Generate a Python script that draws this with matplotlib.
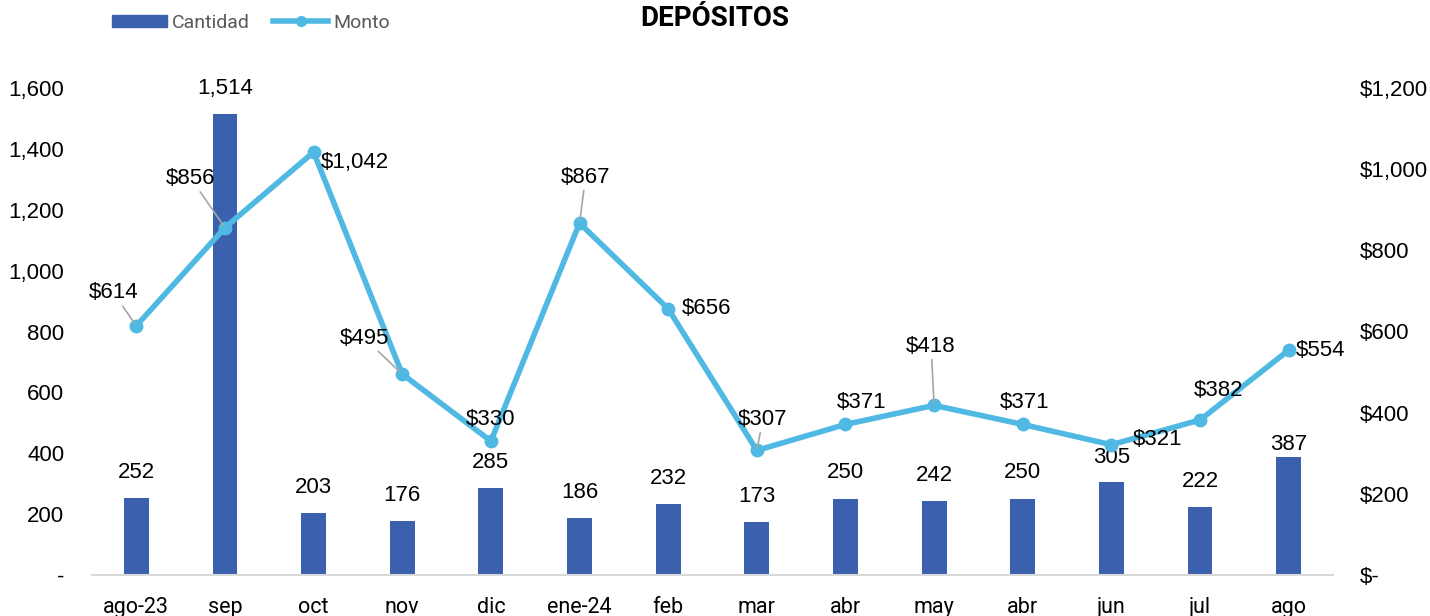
import matplotlib
matplotlib.use("Agg")
import matplotlib.pyplot as plt
from matplotlib.lines import Line2D
from matplotlib.patches import Patch

categories = ["ago-23", "sep", "oct", "nov", "dic", "ene-24", "feb", "mar",
              "abr", "may", "abr", "jun", "jul", "ago"]
cantidad = [252, 1514, 203, 176, 285, 186, 232, 173, 250, 242, 250, 305, 222, 387]
monto = [614, 856, 1042, 495, 330, 867, 656, 307, 371, 418, 371, 321, 382, 554]

# label offsets (pixels) for the Monto labels, and whether a leader line is drawn
monto_offsets = [(-23, 33), (-34, 49), (7, -10), (-38, 36), (0, 22), (6, 46), (38, 0),
                 (6, 31), (16, 22), (-3, 59), (2, 22), (46, 5), (19, 29), (32, 0)]
monto_leader = [True, True, False, True, False, True, False,
                True, False, True, False, False, False, False]
monto_ha = ["center", "center", "left", "center", "center", "center", "center",
            "center", "center", "center", "center", "center", "center", "center"]
cant_offsets = [26, 26, 26, 26, 26, 26, 26, 26, 26, 26, 26, 25, 26, 13]

BAR = "#3B60AE"
LINE = "#4FB9E3"
NUMFONT = "Liberation Sans"
TXTFONT = "Roboto"
FS = 16

fig = plt.figure(figsize=(14.3, 6.16), dpi=100)
ax = fig.add_axes([92/1430, 41/616, (1333-92)/1430, (575-88)/616])
ax2 = ax.twinx()

x = list(range(len(categories)))
ax.bar(x, cantidad, width=0.28, color=BAR, zorder=2)
ax.set_xlim(-0.5, len(categories) - 0.5)
ax.set_ylim(0, 1600)
ax.set_yticks([0, 200, 400, 600, 800, 1000, 1200, 1400, 1600])
ax.set_yticklabels(["-", "200", "400", "600", "800", "1,000", "1,200", "1,400", "1,600"],
                   fontfamily=NUMFONT, fontsize=FS)
ax.set_xticks(x)
ax.set_xticklabels(categories, fontfamily=TXTFONT, fontsize=15.5)
ax.tick_params(axis="x", length=0, pad=16)
ax.tick_params(axis="y", length=0, pad=20)

for i, v in enumerate(cantidad):
    ax.annotate(f"{v:,}", (i, v), xytext=(0, cant_offsets[i]), textcoords="offset pixels",
                ha="center", va="center", fontfamily=NUMFONT, fontsize=FS, color="black")

ax2.plot(x, monto, color=LINE, lw=4, marker="o", ms=9, zorder=3, solid_capstyle="round")
ax2.set_ylim(0, 1200)
ax2.set_yticks([0, 200, 400, 600, 800, 1000, 1200])
ax2.set_yticklabels(["$-", "$200", "$400", "$600", "$800", "$1,000", "$1,200"],
                    fontfamily=NUMFONT, fontsize=FS)
ax2.tick_params(axis="y", length=0, pad=19.5)

for i, v in enumerate(monto):
    dx, dy = monto_offsets[i]
    kw = {}
    if monto_leader[i]:
        kw["arrowprops"] = dict(arrowstyle="-", color="#A6A6A6", lw=1.2,
                                shrinkA=0, shrinkB=2)
    ax2.annotate(f"${v:,}", (i, v), xytext=(dx, dy), textcoords="offset pixels",
                 ha=monto_ha[i], va="center", fontfamily=NUMFONT, fontsize=FS,
                 color="black", **kw)

for a in (ax, ax2):
    for s in ("top", "left", "right"):
        a.spines[s].set_visible(False)
ax2.spines["bottom"].set_visible(False)
ax.spines["bottom"].set_color("#D9D9D9")
ax.spines["bottom"].set_linewidth(1.5)

fig.text(715/1430, 1 - 19/616, "DEPÓSITOS", ha="center", va="center",
         fontfamily=TXTFONT, fontweight="bold", fontsize=20, color="black")

handles = [Patch(color=BAR), Line2D([0], [0], color=LINE, lw=4, marker="o", ms=7)]
leg = fig.legend(handles, ["Cantidad", "Monto"], loc="center left",
                 bbox_to_anchor=(94/1430, 1 - 23/616), ncol=2, frameon=False,
                 prop={"family": TXTFONT, "size": 14}, handlelength=2.85,
                 handletextpad=0.25, columnspacing=1.2, handleheight=0.6)
for t in leg.get_texts():
    t.set_color("#595959")

fig.savefig("out.png", dpi=100)
